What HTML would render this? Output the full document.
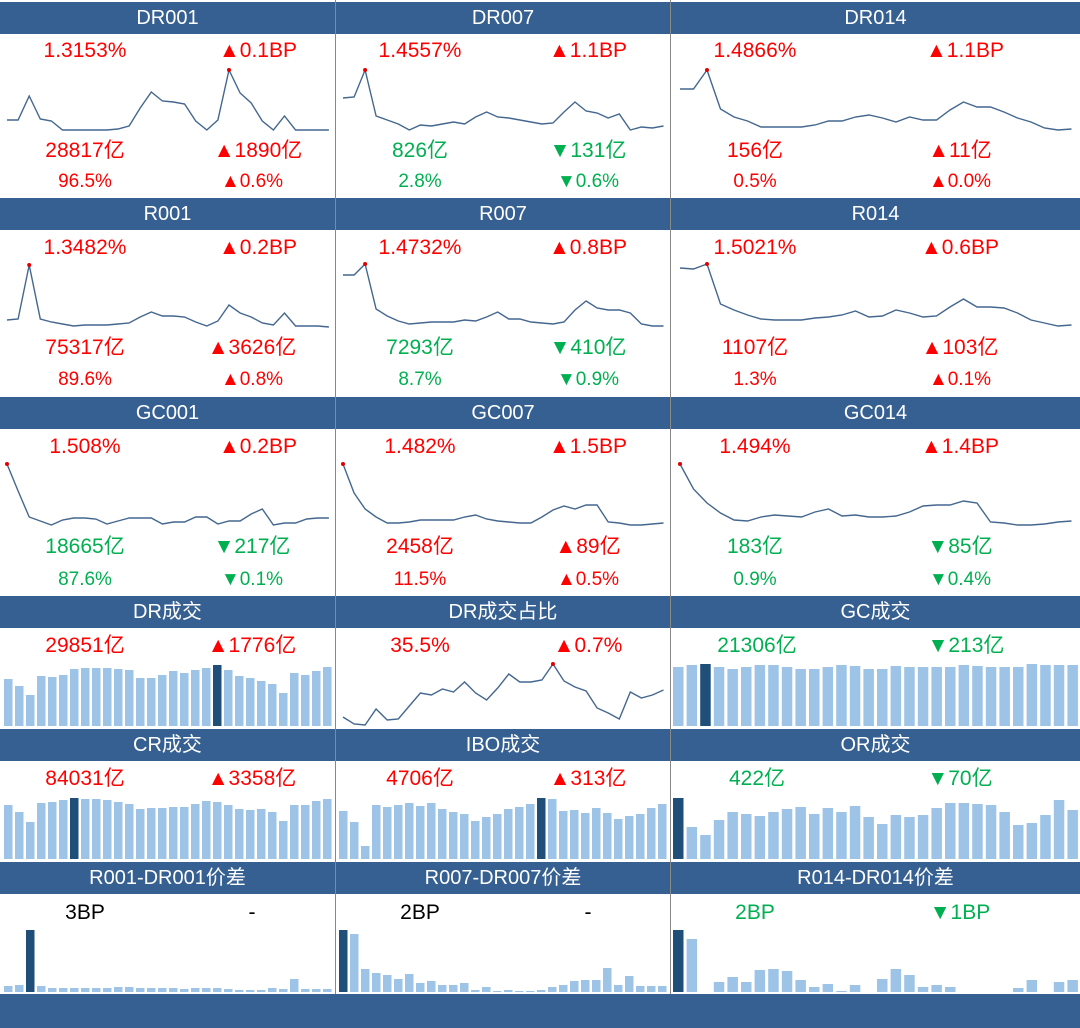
<!DOCTYPE html>
<html><head><meta charset="utf-8">
<style>
body{margin:0;width:1080px;height:1028px;background:#fff;position:relative;overflow:hidden;font-family:"Liberation Sans","Noto Sans CJK SC",sans-serif}
.h{position:absolute;height:32px;background:#366092;color:#fff;font-size:20px;line-height:32px;text-align:center}
.t{position:absolute;font-size:21px;transform:translateX(-50%);white-space:nowrap;line-height:24px}
.s{font-size:19px}
.r{color:#ff0000}.g{color:#00b050}.k{color:#000}
.v{position:absolute;top:0;width:1px;height:994px;background:#888}
svg{position:absolute;left:0;top:0}
</style></head><body>
<svg id="chart" width="1080" height="1028"></svg>
<div class="v" style="left:335px"></div>
<div class="v" style="left:670px"></div>

<div class="h" style="left:0;width:335px;top:2px">DR001</div>
<div class="h" style="left:336px;width:334px;top:2px">DR007</div>
<div class="h" style="left:671px;width:409px;top:2px">DR014</div>
<div class="h" style="left:0;width:335px;top:198px">R001</div>
<div class="h" style="left:336px;width:334px;top:198px">R007</div>
<div class="h" style="left:671px;width:409px;top:198px">R014</div>
<div class="h" style="left:0;width:335px;top:397px">GC001</div>
<div class="h" style="left:336px;width:334px;top:397px">GC007</div>
<div class="h" style="left:671px;width:409px;top:397px">GC014</div>
<div class="h" style="left:0;width:335px;top:596px">DR成交</div>
<div class="h" style="left:336px;width:334px;top:596px">DR成交占比</div>
<div class="h" style="left:671px;width:409px;top:596px">GC成交</div>
<div class="h" style="left:0;width:335px;top:729px">CR成交</div>
<div class="h" style="left:336px;width:334px;top:729px">IBO成交</div>
<div class="h" style="left:671px;width:409px;top:729px">OR成交</div>
<div class="h" style="left:0;width:335px;top:862px">R001-DR001价差</div>
<div class="h" style="left:336px;width:334px;top:862px">R007-DR007价差</div>
<div class="h" style="left:671px;width:409px;top:862px">R014-DR014价差</div>
<div class="h" style="left:0;width:1080px;top:994px;height:34px"></div>

<!-- row 1 -->
<div class="t r" style="left:85px;top:39px">1.3153%</div>
<div class="t r" style="left:258px;top:39px">▲0.1BP</div>
<div class="t r" style="left:85px;top:139px">28817亿</div>
<div class="t r" style="left:258px;top:139px">▲1890亿</div>
<div class="t r s" style="left:85px;top:170px">96.5%</div>
<div class="t r s" style="left:252px;top:170px">▲0.6%</div>
<div class="t r" style="left:420px;top:39px">1.4557%</div>
<div class="t r" style="left:588px;top:39px">▲1.1BP</div>
<div class="t g" style="left:420px;top:139px">826亿</div>
<div class="t g" style="left:588px;top:139px">▼131亿</div>
<div class="t g s" style="left:420px;top:170px">2.8%</div>
<div class="t g s" style="left:588px;top:170px">▼0.6%</div>
<div class="t r" style="left:755px;top:39px">1.4866%</div>
<div class="t r" style="left:965px;top:39px">▲1.1BP</div>
<div class="t r" style="left:755px;top:139px">156亿</div>
<div class="t r" style="left:960px;top:139px">▲11亿</div>
<div class="t r s" style="left:755px;top:170px">0.5%</div>
<div class="t r s" style="left:960px;top:170px">▲0.0%</div>
<!-- row 2 -->
<div class="t r" style="left:85px;top:236px">1.3482%</div>
<div class="t r" style="left:258px;top:236px">▲0.2BP</div>
<div class="t r" style="left:85px;top:336px">75317亿</div>
<div class="t r" style="left:252px;top:336px">▲3626亿</div>
<div class="t r s" style="left:85px;top:368px">89.6%</div>
<div class="t r s" style="left:252px;top:368px">▲0.8%</div>
<div class="t r" style="left:420px;top:236px">1.4732%</div>
<div class="t r" style="left:588px;top:236px">▲0.8BP</div>
<div class="t g" style="left:420px;top:336px">7293亿</div>
<div class="t g" style="left:588px;top:336px">▼410亿</div>
<div class="t g s" style="left:420px;top:368px">8.7%</div>
<div class="t g s" style="left:588px;top:368px">▼0.9%</div>
<div class="t r" style="left:755px;top:236px">1.5021%</div>
<div class="t r" style="left:960px;top:236px">▲0.6BP</div>
<div class="t r" style="left:755px;top:336px">1107亿</div>
<div class="t r" style="left:960px;top:336px">▲103亿</div>
<div class="t r s" style="left:755px;top:368px">1.3%</div>
<div class="t r s" style="left:960px;top:368px">▲0.1%</div>
<!-- row 3 -->
<div class="t r" style="left:85px;top:435px">1.508%</div>
<div class="t r" style="left:258px;top:435px">▲0.2BP</div>
<div class="t g" style="left:85px;top:535px">18665亿</div>
<div class="t g" style="left:252px;top:535px">▼217亿</div>
<div class="t g s" style="left:85px;top:568px">87.6%</div>
<div class="t g s" style="left:252px;top:568px">▼0.1%</div>
<div class="t r" style="left:420px;top:435px">1.482%</div>
<div class="t r" style="left:588px;top:435px">▲1.5BP</div>
<div class="t r" style="left:420px;top:535px">2458亿</div>
<div class="t r" style="left:588px;top:535px">▲89亿</div>
<div class="t r s" style="left:420px;top:568px">11.5%</div>
<div class="t r s" style="left:588px;top:568px">▲0.5%</div>
<div class="t r" style="left:755px;top:435px">1.494%</div>
<div class="t r" style="left:960px;top:435px">▲1.4BP</div>
<div class="t g" style="left:755px;top:535px">183亿</div>
<div class="t g" style="left:960px;top:535px">▼85亿</div>
<div class="t g s" style="left:755px;top:568px">0.9%</div>
<div class="t g s" style="left:960px;top:568px">▼0.4%</div>
<!-- row 4-6 -->
<div class="t r" style="left:85px;top:634px">29851亿</div>
<div class="t r" style="left:252px;top:634px">▲1776亿</div>
<div class="t r" style="left:420px;top:634px">35.5%</div>
<div class="t r" style="left:588px;top:634px">▲0.7%</div>
<div class="t g" style="left:757px;top:634px">21306亿</div>
<div class="t g" style="left:966px;top:634px">▼213亿</div>
<div class="t r" style="left:85px;top:767px">84031亿</div>
<div class="t r" style="left:252px;top:767px">▲3358亿</div>
<div class="t r" style="left:420px;top:767px">4706亿</div>
<div class="t r" style="left:588px;top:767px">▲313亿</div>
<div class="t g" style="left:757px;top:767px">422亿</div>
<div class="t g" style="left:960px;top:767px">▼70亿</div>
<div class="t k" style="left:85px;top:901px">3BP</div>
<div class="t k" style="left:252px;top:901px">-</div>
<div class="t k" style="left:420px;top:901px">2BP</div>
<div class="t k" style="left:588px;top:901px">-</div>
<div class="t g" style="left:755px;top:901px">2BP</div>
<div class="t g" style="left:960px;top:901px">▼1BP</div>

<script>
const dr001=[10,10,34,11,9,0,0,0,0,0,1,4,22,38,29,28,26,9,0,10,60,37,27,9,0,14,0,0,0,0];
const dr007=[32,33,60,14,10,6,0,5,4,6,8,6,13,18,13,12,10,8,6,7,18,28,19,17,12,16,0,3,2,4];
const dr014=[41,41,60,21,13,9,3,3,3,3,5,9,9,13,15,12,8,13,10,10,20,28,23,23,18,12,8,2,0,1];
const r001=[7,8,62,8,5,3,1,2,2,2,3,4,10,15,11,11,10,5,1,6,22,14,10,4,2,14,1,1,1,0];
const r007=[52,52,63,18,11,6,3,4,5,5,5,7,6,10,15,8,8,5,4,3,5,17,26,19,17,17,14,3,1,1];
const r014=[59,58,63,23,17,12,8,7,7,7,9,10,12,16,10,11,17,14,10,11,20,28,20,20,19,14,7,4,1,2];
const gc001=[62,35,9,5,1,6,8,8,7,2,5,8,8,8,2,4,4,9,9,2,5,5,12,17,1,3,3,7,8,8];
const gc007=[62,33,17,9,3,3,4,6,6,6,6,9,11,7,5,4,3,3,9,16,20,17,21,21,4,3,1,1,2,3];
const gc014=[62,37,23,13,6,5,9,11,10,9,14,17,10,11,9,9,10,14,20,21,21,25,23,4,3,1,1,2,4,5];
const drShare=[8,1,0,16,5,6,19,32,30,36,33,43,32,25,37,51,43,43,45,61,44,38,34,17,12,6,33,27,30,35];
const drVol=[47,40,31,50,49,51,57,58,58,58,57,56,48,48,51,55,53,56,58,61,56,50,48,45,42,33,53,51,55,59];
const gcVol=[59,61,62,59,57,59,61,61,59,57,57,59,61,60,57,57,60,59,59,59,59,61,60,59,59,59,62,61,61,61];
const crVol=[54,47,37,56,57,59,61,60,60,59,57,55,50,51,51,52,52,55,58,57,54,50,49,50,47,38,54,54,58,60];
const iboVol=[48,37,13,54,52,54,56,53,56,50,47,45,38,42,45,50,52,55,61,60,48,49,46,51,46,40,43,45,51,55];
const orVol=[61,32,24,39,47,45,43,47,50,52,45,51,47,53,42,35,44,42,44,51,56,56,55,54,47,34,36,44,59,49];
const sp001=[6,7,62,6,4,4,4,4,4,4,5,5,4,4,4,4,3,4,4,4,3,2,2,2,4,3,13,3,3,3];
const sp007=[62,58,23,19,17,13,18,9,11,7,7,9,2,5,1,2,1,1,2,5,7,11,12,12,24,7,16,6,6,6];
const sp014=[62,53,0,10,15,10,22,23,21,12,5,8,1,7,0,13,23,17,5,7,5,0,0,0,0,4,12,0,10,12];

const svg=document.getElementById('chart');
const NS='http://www.w3.org/2000/svg';
const cols=[{x0:7,step:11.1},{x0:343,step:11.05},{x0:680,step:13.5}];
const barCols=[{x0:4,step:11,w:8.5},{x0:339,step:11,w:8.5},{x0:673,step:13.6,w:10.5}];
function xLine(c,i){return cols[c].x0+i*cols[c].step;}
function yVal(base,v){return base-v;}
function line(name,data,c,base){
  const pts=data.map((v,i)=>xLine(c,i).toFixed(1)+','+yVal(base,v).toFixed(1)).join(' ');
  const p=document.createElementNS(NS,'polyline');
  p.setAttribute('points',pts);p.setAttribute('fill','none');
  p.setAttribute('stroke','#44678f');p.setAttribute('stroke-width','1.4');
  
  
  svg.appendChild(p);
  const m=data.indexOf(Math.max(...data));
  const d=document.createElementNS(NS,'circle');
  d.setAttribute('cx',xLine(c,m));d.setAttribute('cy',yVal(base,data[m]));d.setAttribute('r','2');d.setAttribute('fill','#e00000');
  
  
  svg.appendChild(d);
}
function bars(name,data,c,base){
  const m=data.indexOf(Math.max(...data));
  const bc=barCols[c];
  data.forEach((v,i)=>{
    const r=document.createElementNS(NS,'rect');
    r.setAttribute('x',bc.x0+i*bc.step);r.setAttribute('y',yVal(base,v));
    r.setAttribute('width',bc.w);r.setAttribute('height',v);
    r.setAttribute('fill',i===m?'#1f4e79':'#9dc3e6');
    
    
    svg.appendChild(r);
  });
}
line('dr001',dr001,0,130);line('dr007',dr007,1,130);line('dr014',dr014,2,130);
line('r001',r001,0,327);line('r007',r007,1,327);line('r014',r014,2,327);
line('gc001',gc001,0,526);line('gc007',gc007,1,526);line('gc014',gc014,2,526);
line('dr-share',drShare,1,725);
bars('dr-volume',drVol,0,726);bars('gc-volume',gcVol,2,726);
bars('cr-volume',crVol,0,859);bars('ibo-volume',iboVol,1,859);bars('or-volume',orVol,2,859);
bars('r001-spread',sp001,0,992);bars('r007-spread',sp007,1,992);bars('r014-spread',sp014,2,992);
</script>
</body></html>
